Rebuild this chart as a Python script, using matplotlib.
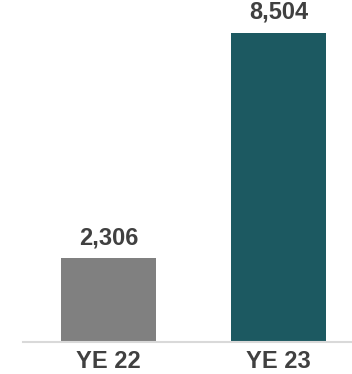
import matplotlib.pyplot as plt

plt.rcParams["font.family"] = ["Liberation Sans", "DejaVu Sans"]

categories = ["YE 22", "YE 23"]
values = [2306, 8504]
bar_colors = ["#808080", "#1c5961"]
TEXT_COLOR = "#404040"

fig = plt.figure(figsize=(3.52, 3.74), dpi=100)
ax = fig.add_axes([23 / 352, 32 / 374, 329 / 352, 342 / 374])

x = range(len(categories))
bars = ax.bar(x, values, width=0.56, color=bar_colors, edgecolor="none", zorder=2)

for bar, v in zip(bars, values):
    ax.annotate(f"{v:,}", (bar.get_x() + bar.get_width() / 2, v),
                xytext=(0, 6.5), textcoords="offset points",
                ha="center", va="bottom", fontsize=17, fontweight="bold",
                color=TEXT_COLOR)

ax.set_xlim(-0.503, 1.4324)
ax.set_ylim(0, 8504 * 342 / 309)
ax.set_xticks(list(x))
ax.set_xticklabels(categories, fontsize=17, fontweight="bold", color=TEXT_COLOR)
ax.tick_params(axis="x", length=0, pad=6)
ax.set_yticks([])

for side in ["top", "right", "left"]:
    ax.spines[side].set_visible(False)
ax.spines["bottom"].set_color("#d9d9d9")
ax.spines["bottom"].set_linewidth(1.5)

fig.savefig("out.png", dpi=100, facecolor="white")
